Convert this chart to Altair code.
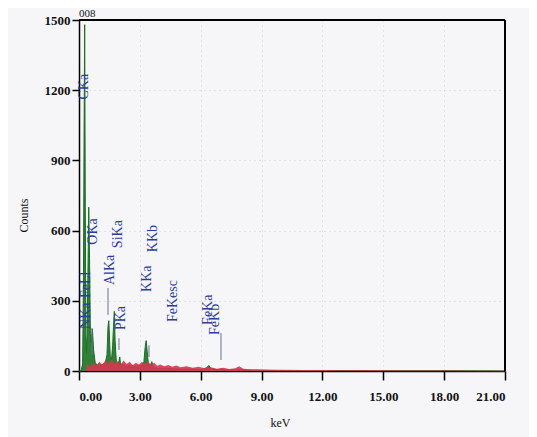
import altair as alt
import pandas as pd

# Green spectrum (keV, counts)
green_kev = [0.00, 0.10, 0.18, 0.22, 0.25, 0.28, 0.31, 0.34, 0.37, 0.40, 0.44, 0.48, 0.52, 0.56,
             0.60, 0.66, 0.72, 0.80, 0.90, 1.00, 1.10, 1.20, 1.30, 1.38, 1.43, 1.47, 1.50, 1.54,
             1.60, 1.66, 1.70, 1.74, 1.78, 1.84, 1.92, 1.98, 2.01, 2.05, 2.15, 2.30, 2.50, 2.70,
             2.90, 3.10, 3.20, 3.26, 3.31, 3.36, 3.42, 3.50, 3.59, 3.66, 3.90, 4.20, 4.60, 5.00,
             5.50, 6.00, 6.30, 6.40, 6.50, 6.80, 7.06, 7.30, 7.60, 8.00, 8.50, 9.00, 10.0, 12.0,
             15.0, 18.0, 21.0]
green_cnt = [0, 0, 30, 400, 1000, 1480, 700, 150, 80, 160, 420, 700, 480, 160,
             120, 180, 90, 35, 25, 30, 25, 30, 35, 70, 190, 215, 150, 60,
             45, 110, 190, 255, 130, 40, 30, 45, 60, 25, 30, 20, 25, 20,
             22, 25, 40, 100, 130, 85, 30, 20, 40, 15, 12, 12, 10, 8,
             8, 6, 14, 24, 10, 6, 8, 5, 4, 6, 3, 3, 2, 2,
             1, 1, 0]

# Red background spectrum (keV, counts)
red_kev = [0.30, 0.40, 0.55, 0.70, 0.85, 1.00, 1.15, 1.30, 1.45, 1.60, 1.75, 1.90, 2.05, 2.20,
           2.35, 2.50, 2.65, 2.80, 2.95, 3.10, 3.25, 3.40, 3.55, 3.70, 3.85, 4.00, 4.20, 4.40,
           4.60, 4.80, 5.00, 5.30, 5.60, 5.90, 6.20, 6.50, 6.80, 7.10, 7.40, 7.70, 7.90, 8.10,
           8.40, 8.70, 9.00, 9.50, 10.0, 11.0, 12.0, 13.0, 14.0, 15.0, 16.0, 17.0, 18.0, 19.0,
           20.0, 21.0]
red_cnt = [0, 30, 18, 35, 22, 40, 28, 45, 30, 50, 32, 42, 28, 45,
           30, 40, 25, 35, 28, 38, 30, 42, 26, 35, 22, 28, 20, 26,
           18, 24, 16, 20, 14, 18, 12, 16, 10, 14, 9, 12, 20, 10,
           8, 7, 6, 5, 5, 4, 4, 3, 3, 3, 2, 2, 2, 1,
           1, 1]

# Peak labels (text, keV, count at text start)
lab_text = ["CKa", "NKa", "FeLl", "OKa", "AlKa", "SiKa", "PKa", "KKa", "KKb", "FeKesc", "FeKa", "FeKb"]
lab_kev = [0.25, 0.33, 0.33, 0.68, 1.53, 1.92, 2.07, 3.35, 3.65, 4.63, 6.36, 6.70]
lab_cnt = [1160, 180, 312, 540, 367, 525, 175, 338, 508, 209, 197, 154]

# Marker lines (keV, from count, to count)
mk_kev = [0.64, 1.43, 1.97, 3.45, 7.00]
mk_lo = [68, 240, 90, 60, 47]
mk_hi = [184, 355, 140, 110, 162]

green = pd.DataFrame({"kev": green_kev, "cnt": green_cnt})
red = pd.DataFrame({"kev": red_kev, "cnt": red_cnt})
labels = pd.DataFrame({"t": lab_text, "kev": lab_kev, "cnt": lab_cnt})
marks = pd.DataFrame({"kev": mk_kev, "lo": mk_lo, "hi": mk_hi})

W, H = 426, 351
xscale = alt.Scale(domain=[0, 21], nice=False, zero=False)
yscale = alt.Scale(domain=[0, 1500], nice=False)

xax = alt.Axis(values=[0, 3, 6, 9, 12, 15, 18, 21], format=".2f", title="keV",
               tickSize=9, labelPadding=10, titlePadding=14, titleX=201, grid=True)
yax = alt.Axis(values=list(range(0, 1501, 150)), format="d", title="Counts", tickSize=7,
               labelPadding=2, titlePadding=14, titleY=195, grid=True)

g = alt.Chart(green).mark_area(color="#237a2c", opacity=0.95,
                               line={"color": "#1c6a24", "strokeWidth": 1}).encode(
    x=alt.X("kev:Q", scale=xscale, axis=xax),
    y=alt.Y("cnt:Q", scale=yscale, axis=yax),
)
r = alt.Chart(red).mark_area(color="#d8354f", opacity=0.9).encode(
    x=alt.X("kev:Q", scale=xscale),
    y=alt.Y("cnt:Q", scale=yscale),
)
m = alt.Chart(marks).mark_rule(color="#6a7090", strokeWidth=1).encode(
    x=alt.X("kev:Q", scale=xscale),
    y=alt.Y("lo:Q", scale=yscale),
    y2="hi:Q",
)
t = alt.Chart(labels).mark_text(angle=270, align="left", baseline="middle", color="#2b3c9e",
                                font="Liberation Serif", fontSize=14).encode(
    x=alt.X("kev:Q", scale=xscale),
    y=alt.Y("cnt:Q", scale=yscale),
    text="t:N",
)
top = alt.Chart().mark_rule(color="black", strokeWidth=2).encode(
    x=alt.value(0), x2=alt.value(W), y=alt.value(0))
right = alt.Chart().mark_rule(color="black", strokeWidth=2).encode(
    x=alt.value(W), y=alt.value(0), y2=alt.value(H))
ttl = alt.Chart().mark_text(text="008", align="left", baseline="bottom", font="Liberation Serif",
                            fontSize=11, color="#111111").encode(
    x=alt.value(0), y=alt.value(-1))

chart = alt.layer(g, r, m, t, top, right, ttl).properties(
    width=W, height=H,
    autosize=alt.AutoSizeParams(type="none"),
    padding={"left": 71, "top": 12, "right": 24, "bottom": 66},
    background="#f6f6f8",
).configure_axis(
    domainColor="black", domainWidth=1.5, tickColor="black", tickWidth=1.5,
    labelFont="Liberation Serif", labelFontSize=13, labelFontWeight="bold", labelColor="#111111",
    titleFont="Liberation Serif", titleFontSize=12, titleFontWeight="normal", titleColor="#111111",
    gridColor="#b8b8c0", gridDash=[1, 4], gridOpacity=0.6,
).configure_view(stroke=None)

chart.save("out.html", embed_options={"renderer": "svg", "actions": False})
